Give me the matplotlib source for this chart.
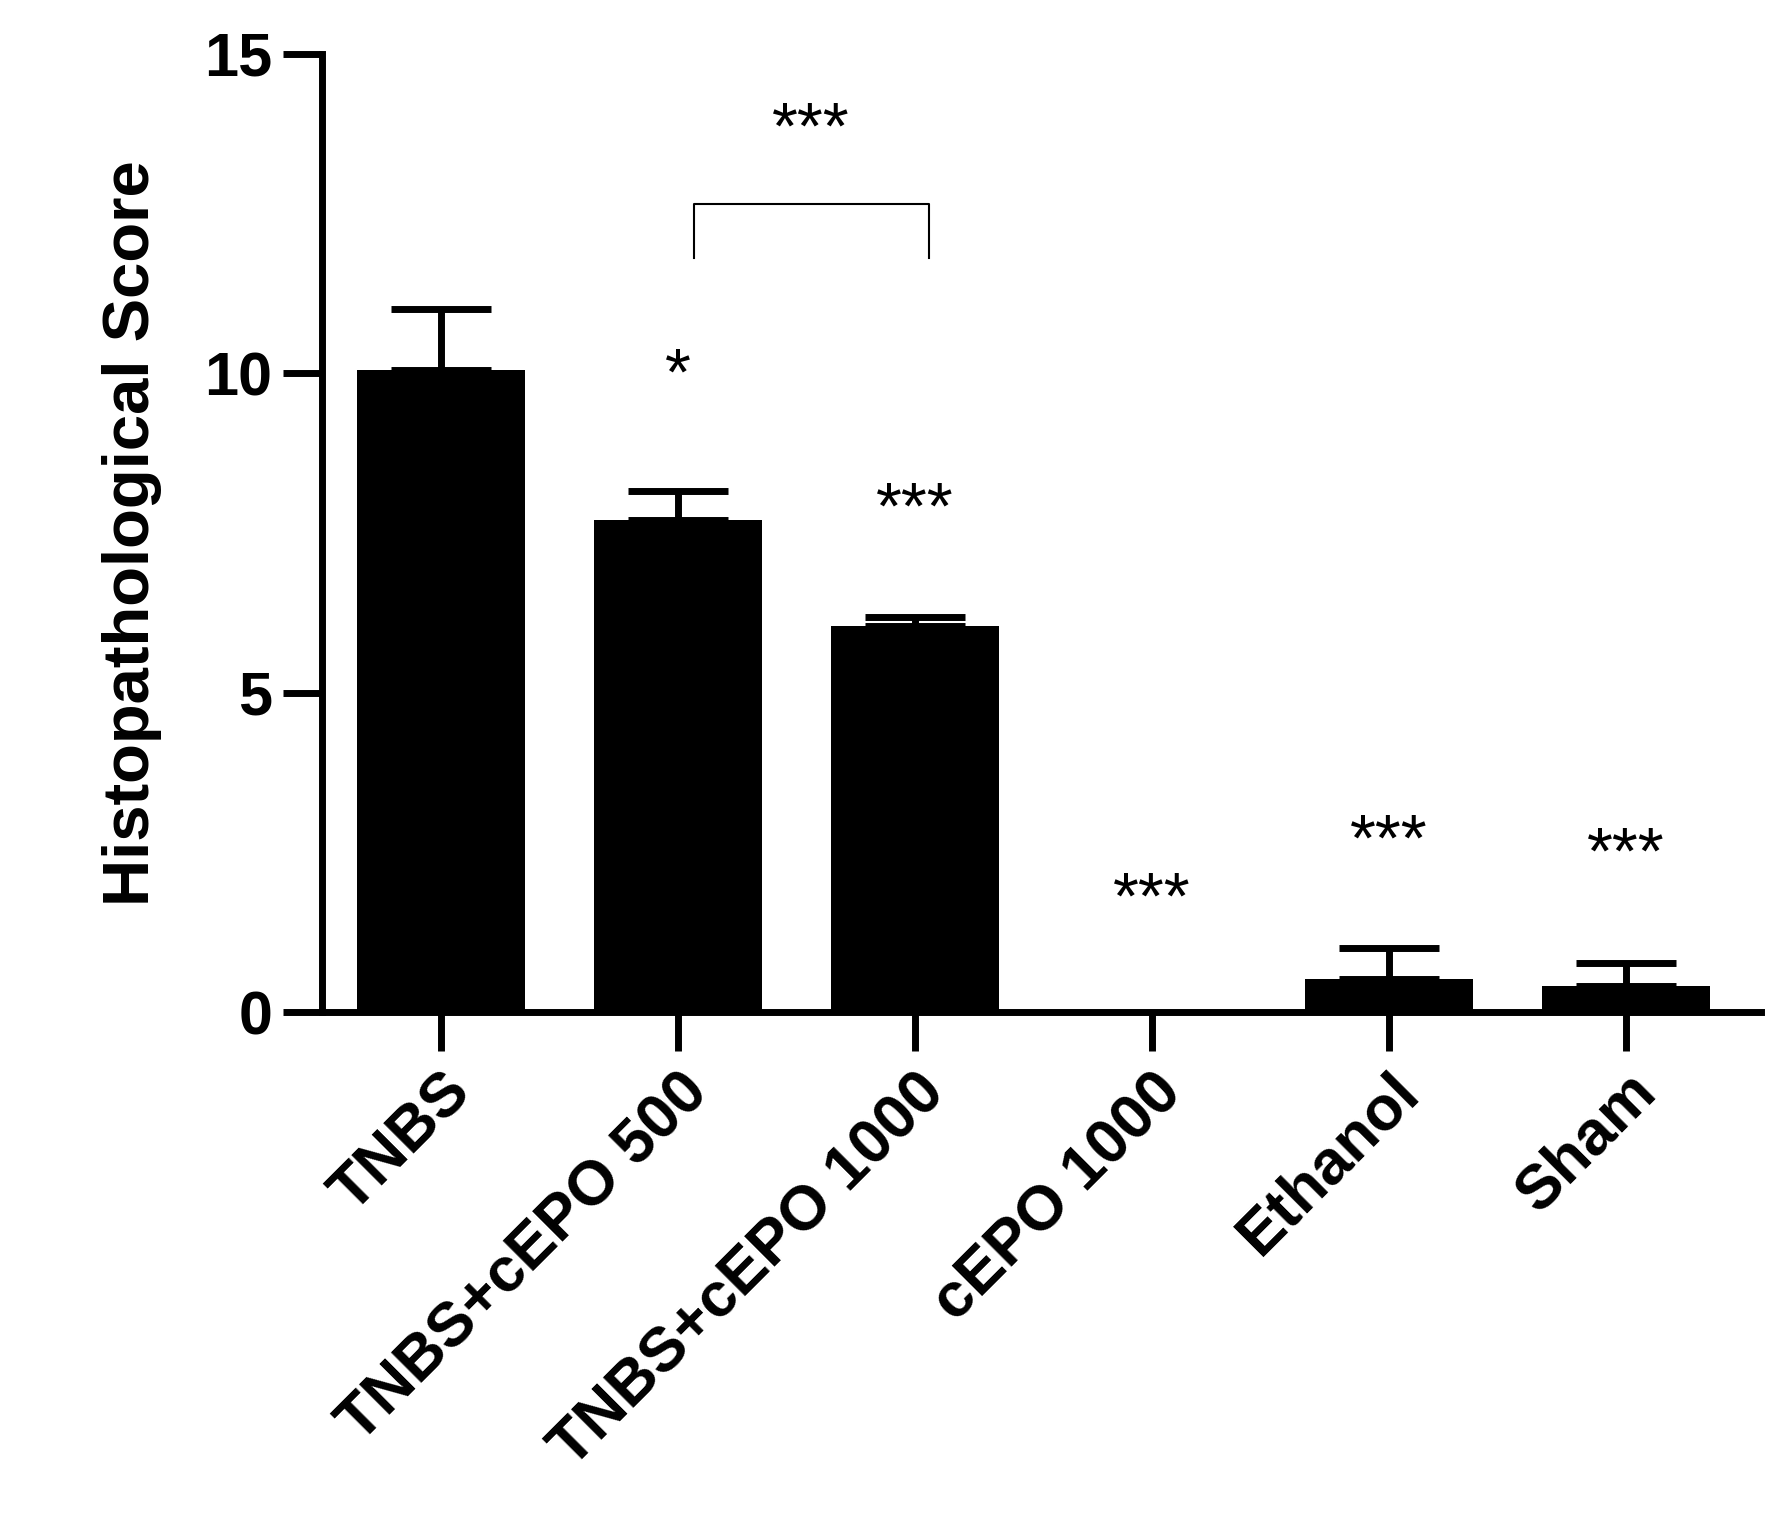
import matplotlib
matplotlib.use("Agg")
import matplotlib.pyplot as plt
import numpy as np

categories = ["TNBS", "TNBS+cEPO 500", "TNBS+cEPO 1000", "cEPO 1000", "Ethanol", "Sham"]
means = [10.05, 7.7, 6.05, 0.0, 0.52, 0.4]
errs = [0.95, 0.45, 0.13, 0.0, 0.48, 0.37]
stars = ["", "*", "***", "***", "***", "***"]
star_y = [0, 9.45, 7.35, 1.25, 2.15, 1.95]

plt.rcParams['font.family'] = ['Liberation Sans', 'DejaVu Sans']
fig = plt.figure(figsize=(17.7, 15.38), dpi=100)
ax = fig.add_axes([0.182, 0.342, 0.813, 0.623])
x = np.arange(len(categories))
ax.bar(x, means, width=0.71, color='black', zorder=2)
for xi, m, e in zip(x, means, errs):
    if e > 0:
        ax.errorbar(xi, m, yerr=[[0], [e]], color='black', elinewidth=5,
                    capsize=36, capthick=5, zorder=1)
for xi, s, sy in zip(x, stars, star_y):
    if s:
        ax.text(xi, sy, s, ha='center', va='bottom', fontsize=48)
# bracket
ax.plot([1.07, 1.07, 2.06, 2.06], [11.8, 12.65, 12.65, 11.8], color='black', lw=1.5)
ax.text(1.56, 13.3, "***", ha='center', va='bottom', fontsize=48)

ax.set_xlim(-0.5, 5.57)
ax.set_ylim(0, 15)
ax.set_yticks([0, 5, 10, 15])
ax.set_xticks(x)
ax.set_xticklabels(categories, rotation=45, ha='right', rotation_mode='anchor',
                   fontsize=45, fontweight='bold')
for lab in ax.get_yticklabels():
    lab.set_fontsize(44); lab.set_fontweight('bold')
ax.set_ylabel("Histopathological Score", fontsize=47, fontweight='bold', labelpad=30)
for s in ['top', 'right']:
    ax.spines[s].set_visible(False)
for s in ['left', 'bottom']:
    ax.spines[s].set_linewidth(5)
ax.tick_params(width=5, length=28, pad=8)
fig.savefig("out.png", dpi=100)
